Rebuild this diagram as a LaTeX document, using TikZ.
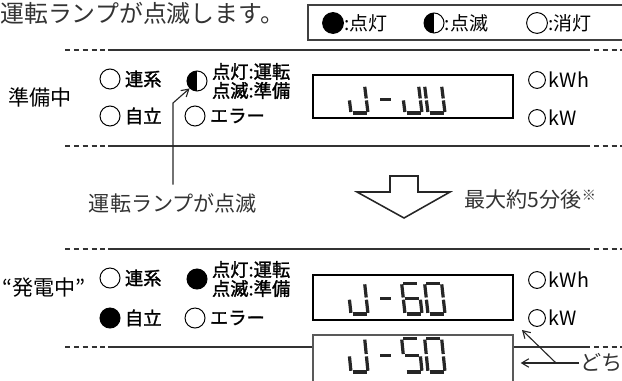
\documentclass[tikz,border=0pt]{standalone}
\usepackage{fontspec}
\setmainfont{Noto Sans CJK JP}
\newfontfamily\jpmed{Noto Sans CJK JP}[FakeBold=1.5]
\usetikzlibrary{arrows.meta}

% seven-segment glyphs, x1/y1/x2/y2 per segment in a 17 x 28 cell
\def\segJ{17/27/17/15, 17/13/17/1, 1.5/0/15.5/0, 0/1/0/13}
\def\segU{17/27/17/15, 17/13/17/1, 1.5/0/15.5/0, 0/1/0/13, 0/15/0/27}
\def\segdash{3/14/14/14}
\def\segsix{1.5/28/15.5/28, 0/15/0/27, 1.5/14/15.5/14, 0/1/0/13, 1.5/0/15.5/0, 17/13/17/1}
\def\segfive{1.5/28/15.5/28, 0/15/0/27, 1.5/14/15.5/14, 17/13/17/1, 1.5/0/15.5/0}
\def\segzero{1.5/28/15.5/28, 17/27/17/15, 17/13/17/1, 1.5/0/15.5/0, 0/1/0/13, 0/15/0/27}

\newcommand{\lcdglyph}[4]{%
  \begin{scope}[shift={(#1,#2)}, yscale=-#3, xslant=0.12]
    \foreach \xa/\ya/\xb/\yb in #4 {\draw[seg] (\xa,\ya) -- (\xb,\yb);}
  \end{scope}}

\begin{document}
\begin{tikzpicture}[
    x=0.025cm, y=-0.025cm,
    lamp/.style={circle, draw, line width=0.7pt, minimum size=0.5cm, inner sep=0pt},
    lampon/.style={lamp, fill=black},
    lamphalf/.style={lamp, path picture={\fill (path picture bounding box.north) rectangle (path picture bounding box.south west);}},
    smalllamp/.style={lamp, minimum size=0.42cm},
    keylamp/.style={lamp, minimum size=0.52cm},
    keytext/.style={font=\fontsize{13.5}{15}\selectfont, anchor=west, inner sep=0pt},
    tag/.style={font=\jpmed\fontsize{13}{13.5}\selectfont, anchor=west, inner sep=1pt, xshift=2pt, align=left},
    unit/.style={font=\fontsize{14}{16}\selectfont, anchor=west, inner sep=1pt, xshift=1pt},
    state/.style={font=\fontsize{15}{17}\selectfont, inner sep=1pt},
    note/.style={font=\fontsize{15}{17}\selectfont, text=black!80, inner sep=1pt},
    lcd/.style={draw, line width=1.2pt, minimum width=5cm, inner sep=0pt},
    seg/.style={line width=2.3pt, black!85},
    sep/.style={line width=0.9pt, black!80},
    sepdash/.style={sep, dash pattern=on 3.5pt off 2.8pt},
    arrow/.style={-{Straight Barb[length=5pt, width=6pt]}, line width=0.8pt, black!85}
]
\clip (0,0) rectangle (622,380);

% Header and key
\node[note, anchor=west, inner sep=0pt, font=\fontsize{17}{19}\selectfont] (headline) at (0,13) {運転ランプが点滅します。};
\node[draw=black!75, line width=0.8pt, minimum width=7.95cm, minimum height=0.875cm] (legend) at (467,22.5) {};
\node[keylamp, fill=black] (keyon) at (333,23) {};
\node[keytext] at (keyon.east) {:点灯};
\node[keylamp, lamphalf] (keyblink) at (434,23) {};
\node[keytext] at (keyblink.east) {:点滅};
\node[keylamp] (keyoff) at (537,23) {};
\node[keytext] at (keyoff.east) {:消灯};

% Separators
\foreach \yy in {50,146,249} {
  \draw[sepdash] (65,\yy) -- (108,\yy);
  \draw[sep] (108,\yy) -- (585,\yy);
  \draw[sepdash] (585,\yy) -- (625,\yy);
}

% Preparing
\node[state] (prep) at (40,97) {準備中};
\node[lamp] (linkA) at (110,79) {};
\node[tag] at (linkA.east) {連系};
\node[lamp] (selfA) at (110,116) {};
\node[tag] at (selfA.east) {自立};
\node[lamphalf] (runA) at (197,81) {};
\node[tag] at (runA.east) {点灯:運転\\点滅:準備};
\node[lamp] (errA) at (195,116) {};
\node[tag] at (errA.east) {エラー};
\node[lcd, minimum height=1.075cm] (lcdA) at (413,96.5) {};
\lcdglyph{351}{113}{0.97}{\segJ}
\lcdglyph{379}{113}{0.97}{\segdash}
\lcdglyph{405}{113}{0.97}{\segJ}
\lcdglyph{428}{113}{0.97}{\segU}
\node[smalllamp] (kwhA) at (537,80) {};
\node[unit] at (kwhA.east) {kWh};
\node[smalllamp] (kwA) at (537,118) {};
\node[unit] at (kwA.east) {kW};

% Blinking lamp note
\node[note] (blinklbl) at (173,203) {運転ランプが点滅};
\coordinate (bend) at (blinklbl.north |- 0,103);
\draw[arrow] (blinklbl.north) ++(0,-7) -- (bend) -- (runA.south west);

% Transition
\draw[line width=1.1pt, black!85, line join=miter] (390,176) -- (418,176) -- (418,192) -- (450,192) -- (404,218) -- (357,192) -- (390,192) -- cycle;
\node[note, anchor=west] (delay) at (463,200) {最大約5分後\raisebox{5pt}{\fontsize{10}{10}\selectfont ※}};

% Generating
\node[state] (gen) at (44,288) {“発電中”};
\node[lamp] (linkB) at (110,278) {};
\node[tag] at (linkB.east) {連系};
\node[lampon] (selfB) at (110,318) {};
\node[tag] at (selfB.east) {自立};
\node[lampon] (runB) at (197,279) {};
\node[tag] at (runB.east) {点灯:運転\\点滅:準備};
\node[lamp] (errB) at (195,318) {};
\node[tag] at (errB.east) {エラー};
\node[lcd, minimum height=1.125cm] (lcdB) at (413,297.5) {};
\lcdglyph{351}{314}{1.1}{\segJ}
\lcdglyph{379}{314}{1.1}{\segdash}
\lcdglyph{405}{314}{1.1}{\segsix}
\lcdglyph{428}{314}{1.1}{\segzero}
\node[smalllamp] (kwhB) at (537,280) {};
\node[unit] at (kwhB.east) {kWh};
\node[smalllamp] (kwB) at (537,318) {};
\node[unit] at (kwB.east) {kW};

% Alternative reading
\draw[sepdash] (65,347) -- (108,347);
\node[lcd, draw=black!65, line width=0.9pt, minimum height=1.2cm] (lcdC) at (413,359) {};
\draw[sep] (108,347) -- (lcdC.west |- 0,347);
\draw[sep] (lcdC.east |- 0,347) -- (585,347);
\draw[sepdash] (585,347) -- (625,347);
\lcdglyph{351}{372}{1.2}{\segJ}
\lcdglyph{379}{372}{1.2}{\segdash}
\lcdglyph{405}{372}{1.2}{\segfive}
\lcdglyph{428}{372}{1.2}{\segzero}

% Pointer arrows
\node[note, anchor=west] (either) at (579,363) {どち};
\path (either.west) ++(-23,0) coordinate (fork);
\coordinate (kwtip) at (522,330);
\draw[arrow, shorten >=5pt] (either.west) -- (lcdC.east |- either.west);
\draw[arrow] (fork) -- (kwtip);

\end{tikzpicture}
\end{document}
